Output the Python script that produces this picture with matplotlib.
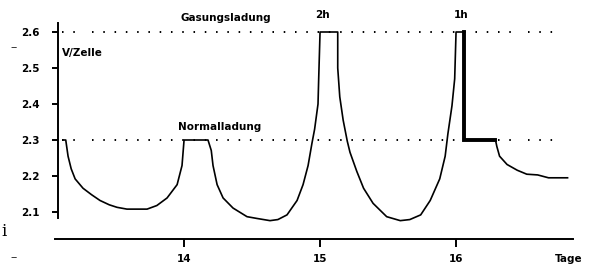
import matplotlib
matplotlib.use("Agg")
from matplotlib import pyplot as plt
import numpy as np

# voltage per cell over the days (thin trace)
days = [13.11, 13.13, 13.147, 13.17, 13.199, 13.257, 13.32, 13.382, 13.45, 13.507,
        13.58, 13.728, 13.80, 13.875, 13.949, 13.985, 14.0, 14.176, 14.2, 14.213,
        14.243, 14.287, 14.36, 14.463, 14.537, 14.632, 14.69, 14.757, 14.831, 14.875,
        14.912, 14.94, 14.96, 14.985, 14.99, 15.0, 15.13, 15.13, 15.145, 15.17,
        15.2, 15.22, 15.27, 15.32, 15.39, 15.49, 15.59, 15.66, 15.74, 15.81,
        15.88, 15.92, 15.94, 15.97, 15.99, 16.0, 16.06]
volts = [2.30, 2.30, 2.255, 2.22, 2.192, 2.166, 2.148, 2.132, 2.12, 2.113,
         2.108, 2.108, 2.118, 2.139, 2.176, 2.229, 2.30, 2.30, 2.271, 2.229,
         2.176, 2.139, 2.111, 2.087, 2.082, 2.076, 2.079, 2.092, 2.132, 2.176,
         2.229, 2.29, 2.33, 2.40, 2.47, 2.60, 2.60, 2.50, 2.42, 2.355,
         2.297, 2.266, 2.213, 2.166, 2.124, 2.087, 2.076, 2.079, 2.092, 2.132,
         2.192, 2.255, 2.317, 2.395, 2.47, 2.60, 2.60]

# thick part after the 1h charge
thick_days = [16.06, 16.06, 16.29]
thick_volts = [2.60, 2.30, 2.30]

# tail (thin)
tail_days = [16.29, 16.30, 16.32, 16.375, 16.45, 16.52, 16.6, 16.68, 16.82]
tail_volts = [2.30, 2.282, 2.255, 2.232, 2.216, 2.205, 2.203, 2.195, 2.195]

levels = [2.3, 2.6]
dot_pieces = [(13.10, 13.22), (13.32, 16.41), (16.53, 16.71)]

yticks = [2.1, 2.2, 2.3, 2.4, 2.5, 2.6]
xticks = [14, 15, 16]

fnt = ['Liberation Sans Narrow', 'DejaVu Sans']
fs = 7.5

fig = plt.figure(figsize=(5.91, 2.68), dpi=100)
ax = fig.add_axes([55/591, 1-239/268, 518/591, 216/268])
ax.set_xlim(13.051, 16.86)
ax.set_ylim(2.025, 2.625)

for lv in levels:
    for a, b in dot_pieces:
        ax.plot([a, b], [lv, lv], color='k', lw=1.4, linestyle=(0, (0.8, 5.0)), clip_on=False)

ax.plot(days, volts, color='k', lw=1.2, clip_on=False)
ax.plot(thick_days, thick_volts, color='k', lw=2.8, solid_joinstyle='miter', clip_on=False)
ax.plot(tail_days, tail_volts, color='k', lw=1.2, clip_on=False)

ax.spines['right'].set_color('none')
ax.spines['top'].set_color('none')
ax.spines['left'].set_position(('data', 13.074))
ax.spines['left'].set_bounds(2.083, 2.625)
ax.spines['left'].set_linewidth(1.4)
ax.spines['bottom'].set_linewidth(1.4)

ax.set_yticks(yticks)
ax.set_yticklabels([str(v) for v in yticks])
ax.set_xticks(xticks)
ax.tick_params(axis='y', direction='out', length=4, width=1.4, pad=9)
ax.tick_params(axis='x', direction='out', length=6, width=1.4, pad=5)
for lab in ax.get_xticklabels() + ax.get_yticklabels():
    lab.set_family(fnt)
    lab.set_fontweight('bold')
    lab.set_fontsize(fs)

ax.text(14.31, 2.64, 'Gasungsladung', ha='center', va='center', fontsize=fs, fontweight='bold', family=fnt)
ax.text(14.265, 2.337, 'Normalladung', ha='center', va='center', fontsize=fs, fontweight='bold', family=fnt)
ax.text(15.015, 2.647, '2h', ha='center', va='center', fontsize=fs, fontweight='bold', family=fnt)
ax.text(16.04, 2.647, '1h', ha='center', va='center', fontsize=fs, fontweight='bold', family=fnt)
ax.text(13.103, 2.542, 'V/Zelle', ha='left', va='center', fontsize=fs, fontweight='bold', family=fnt)
ax.text(16.73, 1.97, 'Tage', ha='left', va='center', fontsize=fs, fontweight='bold', family=fnt)

# edge marks from the scanned page
fig.text(14/591, 1-48/268, '\u2013', ha='center', va='center', fontsize=9, family='DejaVu Serif')
fig.text(4/591, 1-231/268, 'i', ha='center', va='center', fontsize=12, family='DejaVu Serif')
fig.text(14/591, 1-258/268, '\u2013', ha='center', va='center', fontsize=9, family='DejaVu Serif')

fig.savefig('out.png', dpi=100)
